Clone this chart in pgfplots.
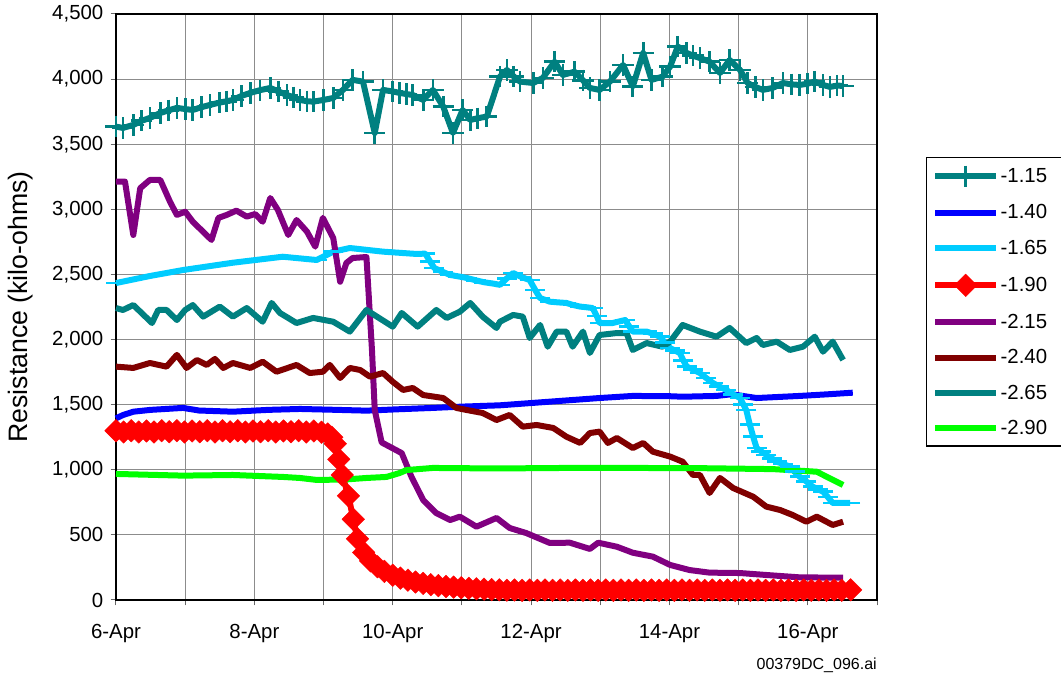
\documentclass[border=0pt]{standalone}
\usepackage{fontspec}
\setmainfont{Liberation Sans}
\usepackage{pgfplots}
\pgfplotsset{compat=1.18}
\definecolor{cteal}{RGB}{0,128,128}
\definecolor{cblue}{RGB}{0,0,255}
\definecolor{ccyan}{RGB}{0,204,255}
\definecolor{cred}{RGB}{255,0,0}
\definecolor{cpurple}{RGB}{128,0,128}
\definecolor{cmaroon}{RGB}{128,0,0}
\definecolor{cgreen}{RGB}{0,255,0}
\newcommand{\lblfont}{\fontsize{15.3}{18}\selectfont}
\newcommand{\legbox}[1]{\makebox[42pt][l]{#1}}
\begin{document}
\begin{tikzpicture}
\useasboundingbox (0,0) rectangle (795.75pt,507.75pt);
\begin{axis}[
  at={(87pt,57.75pt)}, anchor=south west,
  scale only axis, width=570.75pt, height=439.5pt,
  xmin=0, xmax=11, ymin=0, ymax=4500,
  clip=false,
  xtick={0,1,2,3,4,5,6,7,8,9,10,11},
  xticklabels={6-Apr,,8-Apr,,10-Apr,,12-Apr,,14-Apr,,16-Apr,},
  ytick={0,500,1000,1500,2000,2500,3000,3500,4000,4500},
  xmajorgrids=true, ymajorgrids=true,
  grid style={black!45, line width=0.75pt},
  tick label style={font=\lblfont},
  xticklabel style={yshift=-10.5pt},
  yticklabel style={xshift=-2pt},
  tick pos=left,
  tick align=outside,
  major tick length=4pt,
  tick style={black!60, line width=0.75pt},
  axis line style={black, line width=1.5pt},
  ylabel={Resistance (kilo-ohms)},
  ylabel style={font=\fontsize{20}{24}\selectfont, at={(axis description cs:-0.1248,0.5)}, anchor=center},
  legend style={at={(1.0644,0.756)}, anchor=north west, draw=black, line width=1pt,
    font=\lblfont, inner xsep=4pt, inner ysep=6pt, row sep=12.3pt,
    nodes={inner sep=1pt}, cells={anchor=west}},
  legend image code/.code={\draw[mark repeat=2,mark phase=2,#1] plot coordinates {(0pt,0pt) (23pt,0pt) (46pt,0pt)};},
  every axis plot/.append style={line width=4.5pt, line join=round},
  /pgf/number format/1000 sep={,},
  /pgf/number format/assume math mode=true,
]
% -1.15
\addplot[color=cteal, mark=+, mark size=8pt, mark options={line width=2pt}] coordinates {
(0.00,3635)(0.10,3625)(0.25,3648)(0.37,3680)(0.49,3702)(0.64,3740)(0.76,3760)(0.88,3779)
(1.00,3770)(1.11,3763)(1.24,3785)(1.36,3802)(1.50,3820)(1.60,3830)(1.69,3840)(1.81,3870)(1.94,3894)
(2.08,3915)(2.23,3932)(2.35,3905)(2.47,3878)(2.57,3860)(2.66,3840)(2.76,3830)(2.85,3827)
(3.00,3840)(3.14,3855)(3.28,3917)(3.42,3994)(3.57,3981)(3.74,3586)(3.86,3917)
(4.00,3905)(4.10,3894)(4.20,3885)(4.29,3878)(4.44,3840)(4.58,3917)(4.73,3789)(4.87,3586)
(5.01,3763)(5.12,3686)(5.23,3700)(5.36,3712)(5.55,4019)(5.65,4070)(5.75,4020)(5.84,3981)
(6.03,3970)(6.17,4009)(6.34,4134)(6.46,4032)(6.63,4057)(6.75,3990)(6.85,3932)(6.99,3917)
(7.14,3981)(7.33,4109)(7.47,3943)(7.62,4201)(7.74,3994)(7.90,4019)(8.01,4096)(8.12,4250)
(8.25,4201)(8.34,4180)(8.44,4162)(8.58,4134)(8.73,4047)(8.87,4147)(9.02,4070)(9.13,3970)
(9.24,3940)(9.35,3917)(9.49,3932)(9.64,3970)(9.76,3960)(9.88,3955)(10.00,3965)(10.10,3981)
(10.22,3955)(10.32,3940)(10.42,3950)(10.51,3948)};
\addlegendentry{\legbox{-1.15}}
% -1.40
\addplot[color=cblue] coordinates {
(0,1395)(0.10,1420)(0.25,1446)(0.50,1460)(0.97,1475)(1.20,1455)(1.69,1446)(2.20,1460)
(2.66,1467)(3.20,1460)(3.62,1454)(4.10,1465)(4.58,1475)(5.00,1485)(5.55,1495)(6.27,1523)
(6.99,1551)(7.47,1567)(8.00,1565)(8.19,1561)(8.68,1567)(8.90,1580)(9.26,1551)(9.88,1567)
(10.30,1580)(10.65,1592)};
\addlegendentry{\legbox{-1.40}}
% -1.65
\addplot[color=ccyan, mark=-, mark size=7.5pt, mark options={line width=2pt}] coordinates {
(0.00,2434)(0.49,2488)(0.97,2534)(1.69,2590)(2.41,2636)(2.90,2611)(3.14,2675)(3.38,2703)
(3.86,2675)(4.35,2657)(4.47,2660)(4.54,2600)(4.60,2550)(4.72,2520)(4.83,2496)(4.95,2485)
(5.07,2473)(5.20,2455)(5.32,2440)(5.45,2430)(5.55,2420)(5.65,2470)(5.74,2511)(5.86,2480)
(5.98,2457)(6.06,2380)(6.13,2319)(6.27,2291)(6.40,2285)(6.51,2281)(6.61,2265)(6.71,2253)
(6.80,2248)(6.89,2242)(6.95,2180)(6.99,2127)(7.09,2127)(7.18,2127)(7.28,2140)(7.36,2150)
(7.42,2100)(7.47,2061)(7.57,2061)(7.67,2061)(7.76,2045)(7.86,2022)(7.94,1975)(8.01,1935)
(8.08,1915)(8.15,1897)(8.20,1840)(8.25,1792)(8.34,1770)(8.44,1743)(8.53,1705)(8.63,1666)
(8.72,1640)(8.82,1613)(8.92,1580)(9.02,1551)(9.07,1500)(9.11,1459)(9.16,1350)(9.21,1254)
(9.26,1167)(9.33,1140)(9.40,1114)(9.48,1088)(9.55,1062)(9.64,1045)(9.74,1024)(9.81,985)
(9.88,947)(9.98,910)(10.07,870)(10.15,850)(10.22,832)(10.29,790)(10.36,745)(10.48,745)(10.61,745)};
\addlegendentry{\legbox{-1.65}}
% -1.90
\addplot[color=cred, mark=square*, mark size=6pt, mark options={rotate=45, line width=0.3pt}] coordinates {
(0,1300)(0.11,1290)(0.22,1300)(0.33,1290)(0.44,1298)(0.55,1290)(0.66,1300)(0.77,1292)
(0.88,1300)(0.99,1290)(1.10,1298)(1.21,1292)(1.32,1300)(1.43,1290)(1.54,1300)(1.65,1292)
(1.76,1300)(1.87,1290)(1.98,1298)(2.09,1292)(2.20,1300)(2.31,1290)(2.42,1298)(2.53,1292)
(2.64,1300)(2.75,1290)(2.86,1298)(2.97,1288)
(3.06,1275)(3.12,1250)(3.17,1200)(3.22,1080)(3.27,960)(3.36,800)(3.43,620)(3.49,470)
(3.58,365)(3.68,300)(3.78,255)(3.88,220)(4,190)(4.11,168)(4.22,152)(4.33,138)
(4.44,128)(4.55,118)(4.66,110)(4.77,104)(4.88,99)(4.99,94)(5.10,90)(5.21,86)(5.32,83)(5.43,80)
(5.54,78)(5.65,75)(5.76,77)(5.87,74)(5.98,77)(6.09,74)(6.20,77)(6.31,74)(6.42,77)(6.53,74)
(6.64,77)(6.75,74)(6.86,77)(6.97,74)(7.08,77)(7.19,74)(7.30,77)(7.41,74)(7.52,77)(7.63,74)
(7.74,77)(7.85,74)(7.96,77)(8.07,74)(8.18,77)(8.29,74)(8.40,77)(8.51,74)(8.62,77)(8.73,74)
(8.84,77)(8.95,74)(9.06,77)(9.17,74)(9.28,77)(9.39,74)(9.50,77)(9.61,74)(9.72,77)(9.83,74)
(9.94,77)(10.05,74)(10.16,77)(10.27,74)(10.38,77)(10.49,74)(10.62,78)};
\addlegendentry{\legbox{-1.90}}
% -2.15
\addplot[color=cpurple] coordinates {
(0.00,3213)(0.13,3213)(0.25,2803)(0.35,3162)(0.49,3226)(0.64,3226)(0.78,3059)(0.88,2957)
(1.00,2982)(1.11,2905)(1.38,2765)(1.48,2934)(1.60,2957)(1.74,2990)(1.89,2944)(2.01,2964)
(2.12,2905)(2.23,3087)(2.34,2995)(2.49,2803)(2.61,2918)(2.76,2829)(2.88,2713)(2.99,2934)
(3.14,2780)(3.24,2444)(3.33,2588)(3.42,2626)(3.62,2634)(3.70,1920)(3.74,1459)(3.84,1210)
(4.13,1128)(4.27,947)(4.44,768)(4.63,667)(4.83,614)(4.97,640)(5.21,563)(5.50,630)
(5.69,553)(5.93,514)(6.27,438)(6.56,440)(6.85,392)(6.97,440)(7.24,409)(7.47,363)
(7.76,333)(8.01,269)(8.29,230)(8.58,210)(9.02,207)(9.40,192)(9.88,174)(10.51,171)};
\addlegendentry{\legbox{-2.15}}
% -2.40
\addplot[color=cmaroon] coordinates {
(0.00,1792)(0.25,1782)(0.49,1820)(0.73,1792)(0.88,1882)(1.02,1782)(1.17,1843)(1.31,1805)
(1.43,1851)(1.55,1782)(1.69,1820)(1.94,1782)(2.12,1830)(2.32,1753)(2.61,1805)(2.80,1743)
(2.99,1753)(3.09,1805)(3.24,1705)(3.38,1782)(3.53,1766)(3.67,1715)(3.86,1743)(4.00,1676)
(4.15,1613)(4.29,1628)(4.44,1574)(4.73,1551)(4.92,1475)(5.07,1459)(5.30,1436)(5.50,1382)
(5.69,1421)(5.88,1331)(6.08,1344)(6.32,1321)(6.51,1254)(6.71,1206)(6.85,1282)(6.99,1293)
(7.11,1206)(7.24,1244)(7.47,1167)(7.62,1206)(7.76,1139)(8.01,1101)(8.19,1062)(8.34,960)
(8.44,960)(8.58,822)(8.73,937)(8.92,860)(9.21,793)(9.40,717)(9.60,691)(9.78,653)
(9.98,601)(10.13,640)(10.36,576)(10.51,601)};
\addlegendentry{\legbox{-2.40}}
% -2.65
\addplot[color=cteal] coordinates {
(0.00,2242)(0.10,2227)(0.25,2265)(0.37,2204)(0.52,2127)(0.61,2227)(0.73,2227)(0.88,2150)
(1.00,2227)(1.11,2265)(1.26,2176)(1.50,2253)(1.69,2176)(1.89,2242)(2.12,2137)(2.25,2281)
(2.37,2204)(2.61,2127)(2.85,2166)(3.14,2137)(3.38,2061)(3.62,2227)(4.00,2099)(4.13,2204)
(4.36,2099)(4.63,2227)(4.78,2166)(4.97,2214)(5.12,2281)(5.30,2176)(5.50,2089)(5.55,2137)
(5.74,2189)(5.88,2176)(5.98,2012)(6.13,2112)(6.24,1945)(6.37,2061)(6.51,2061)(6.60,1945)
(6.75,2061)(6.85,1897)(6.99,2035)(7.24,2050)(7.38,2050)(7.47,1920)(7.67,1973)(7.90,1945)
(8.01,1984)(8.19,2112)(8.44,2061)(8.68,2022)(8.87,2089)(9.11,1973)(9.26,2012)(9.35,1958)
(9.55,1984)(9.74,1920)(9.93,1945)(10.10,2022)(10.22,1907)(10.36,1984)(10.51,1843)};
\addlegendentry{\legbox{-2.65}}
% -2.90
\addplot[color=cgreen] coordinates {
(0,968)(0.97,955)(1.69,960)(2.41,945)(2.66,937)(2.90,922)(3.30,925)(3.62,937)(3.91,945)
(4.10,975)(4.20,998)(4.58,1014)(5.50,1010)(6.50,1014)(7.50,1014)(8.50,1012)(9.50,1005)
(9.88,993)(10.13,985)(10.27,947)(10.51,883)};
\addlegendentry{\legbox{-2.90}}
\end{axis}
\node[anchor=base east, font=\fontsize{12}{14}\selectfont, inner sep=0pt] at (657.75pt,5.25pt) {00379DC\_096.ai};
\end{tikzpicture}
\end{document}
